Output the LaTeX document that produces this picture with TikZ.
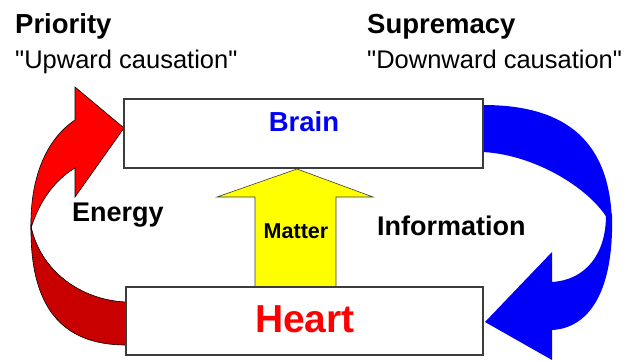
\documentclass[tikz,border=0pt]{standalone}
\usepackage{fontspec}
\setmainfont{Liberation Sans}[Ligatures=TeXOff]
\definecolor{brainblue}{RGB}{0,0,250}
\definecolor{heartred}{RGB}{255,0,0}
\definecolor{heartdark}{RGB}{200,0,0}
\definecolor{matteryellow}{RGB}{255,255,0}
\definecolor{boxgray}{RGB}{60,60,60}

\begin{document}
\begin{tikzpicture}[x=1pt, y=-1pt,
    organ/.style={draw=boxgray, line width=1.2pt, fill=white, rectangle, inner sep=0pt},
    heading/.style={anchor=base west, inner sep=0pt, font=\bfseries\fontsize{27.5}{32}\selectfont},
    subheading/.style={anchor=base west, inner sep=0pt, font=\fontsize{25.5}{30}\selectfont},
    flowlabel/.style={anchor=base west, inner sep=0pt, font=\bfseries\fontsize{27}{32}\selectfont}]
    \useasboundingbox (0,0) rectangle (641,362);

    % Energy: red curved arrow, back part first
    \filldraw[fill=heartdark, draw=black, line width=0.6pt] (31,226) .. controls (40,270) and (80,300) .. (126,302)
        -- (126,345) .. controls (60,345) and (30,305) .. (31,226) -- cycle;
    \filldraw[fill=heartred, draw=black, line width=0.6pt] (31,228) .. controls (30,180) and (45,140) .. (75,120)
        -- (75,87) -- (124,128) -- (75,197) -- (75,168) .. controls (55,180) and (40,200) .. (31,228) -- cycle;

    % Information: blue curved arrow
    \fill[brainblue] (483,105) .. controls (565,105) and (612,140) .. (612,228)
        .. controls (600,195) and (540,155) .. (483,152) -- cycle;
    \fill[brainblue] (608,205) -- (612,215) .. controls (614,290) and (590,328) .. (552,330)
        -- (552,360) -- (485,322) -- (552,252) -- (552,282) .. controls (585,280) and (606,255) .. (606,215) -- cycle;

    % Matter: yellow block arrow
    \filldraw[fill=matteryellow, draw=boxgray, line width=0.6pt] (297,169) -- (373,197) -- (336,197) -- (336,287)
        -- (255,287) -- (255,197) -- (217,197) -- cycle;

    % Boxes
    \node[organ, minimum width=359pt, minimum height=69pt] (brain) at (303.5,133.5) {};
    \node[organ, minimum width=357pt, minimum height=68pt] (heart) at (304.5,321) {};
    \node[anchor=base, inner sep=0pt, text=brainblue, font=\bfseries\fontsize{27.5}{32}\selectfont] (brainlabel) at (304,131) {Brain};
    \node[anchor=base, inner sep=0pt, text=heartred, font=\bfseries\fontsize{39}{46}\selectfont] (heartlabel) at (305,332) {Heart};

    % Labels
    \node[heading] (priority) at (15,33) {Priority};
    \node[subheading] (upward) at (15,68) {"Upward causation"};
    \node[heading] (supremacy) at (367,33) {Supremacy};
    \node[subheading] (downward) at (367,68) {"Downward causation"};
    \node[flowlabel] (energy) at (72,221) {Energy};
    \node[flowlabel] (information) at (377,235) {Information};
    \node[anchor=base, inner sep=0pt, font=\bfseries\fontsize{21.5}{26}\selectfont] (matter) at (296,238) {Matter};
\end{tikzpicture}
\end{document}
